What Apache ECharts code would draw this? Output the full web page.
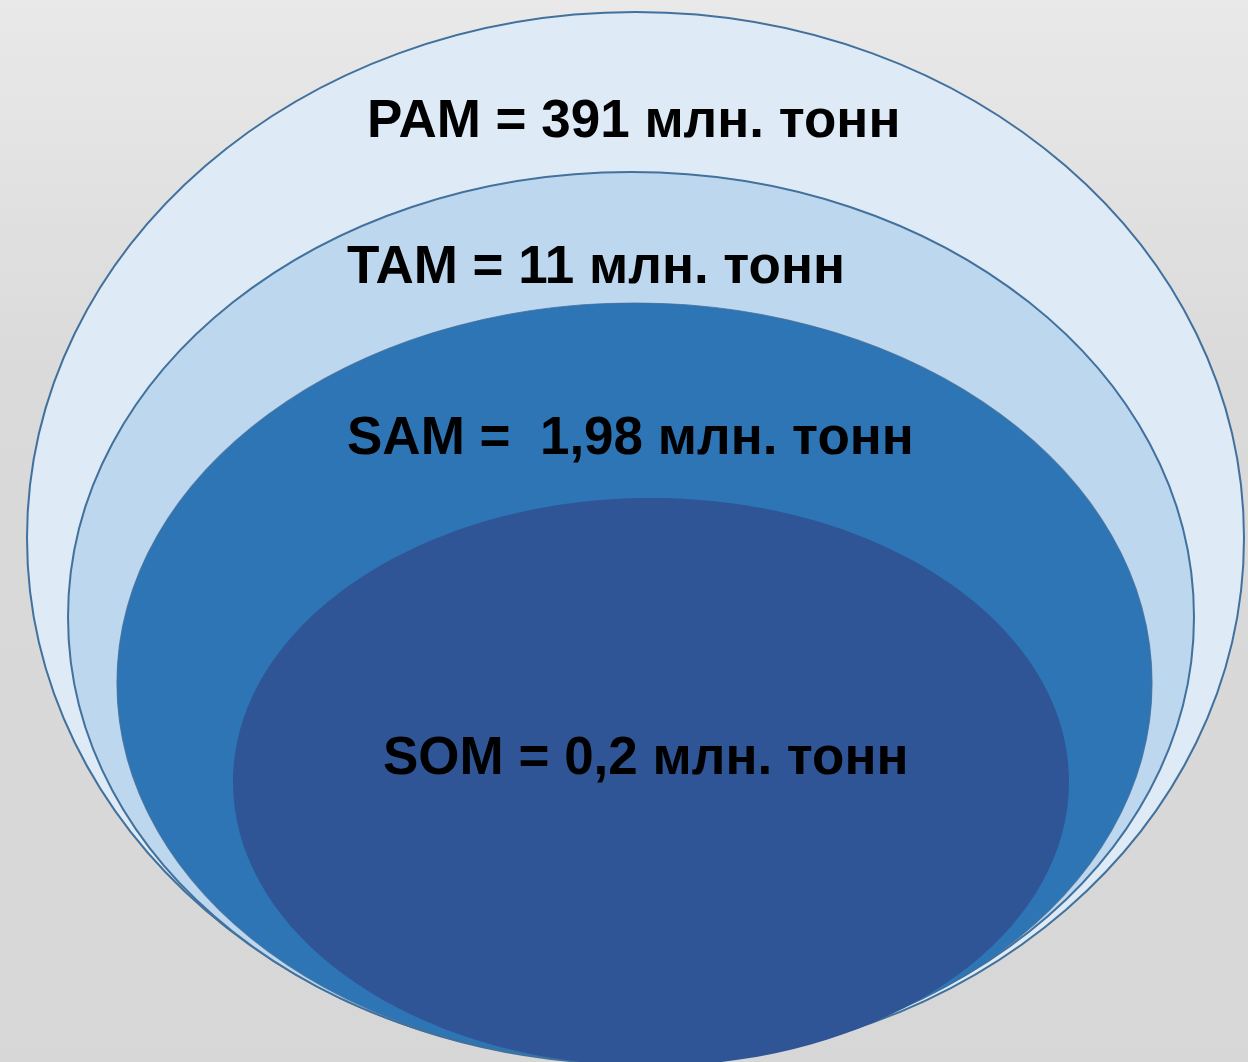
<!DOCTYPE html>
<html>
<head>
<meta charset="utf-8">
<title>PAM / TAM / SAM / SOM</title>
<script src="https://cdn.jsdelivr.net/npm/echarts@6/dist/echarts.min.js"></script>
<style>
  html, body { margin: 0; padding: 0; }
  #chart { width: 1248px; height: 1062px; }
</style>
</head>
<body>
<div id="chart"></div>
<script>
// Market levels, from the widest to the narrowest
const segments = ['PAM', 'TAM', 'SAM', 'SOM'];
const volumes = [391, 11, 1.98, 0.2];
const unit = 'млн. тонн';
const separators = [' = ', ' = ', ' =  ', ' = '];

// Ellipse layout in the diagram's own units (x: 0..1248, y: 0..1062 downwards)
const ellipseCx = [635.5, 631, 634.5, 651];
const ellipseCy = [538, 617, 683, 782];
const ellipseRx = [608.5, 563, 517.5, 418];
const ellipseRy = [526, 445, 380, 284];

// Label anchors (left edge, vertical middle) in the same units
const labelX = [367, 347, 347, 383];
const labelY = [122, 268, 439, 759];

const fills = ['#deebf7', '#bdd7ee', '#2e75b6', '#2f5597'];
const strokes = ['#41719c', '#41719c', 'rgba(65,113,156,0.8)', null];
const strokeWidths = [2, 2, 1.2, 0];

function formatVolume(v) {
  return String(v).replace('.', ',');
}

const ellipseData = segments.map((s, i) => [ellipseCx[i], ellipseCy[i], ellipseRx[i], ellipseRy[i], i]);
const labelData = segments.map((s, i) => [labelX[i], labelY[i], i]);

const chart = echarts.init(document.getElementById('chart'), null, { renderer: 'canvas' });

chart.setOption({
  backgroundColor: new echarts.graphic.LinearGradient(0, 0, 0, 1, [
    { offset: 0, color: '#e9e9e9' },
    { offset: 0.35, color: '#dadada' },
    { offset: 1, color: '#d7d7d7' }
  ]),
  animation: false,
  grid: { left: 0, right: 0, top: 0, bottom: 0 },
  xAxis: { type: 'value', min: 0, max: 1248, show: false },
  yAxis: { type: 'value', min: 0, max: 1062, inverse: true, show: false },
  series: [
    {
      type: 'custom',
      name: 'levels',
      coordinateSystem: 'cartesian2d',
      data: ellipseData,
      z: 1,
      renderItem: function (params, api) {
        const i = api.value(4);
        const c = api.coord([api.value(0), api.value(1)]);
        const size = api.size([api.value(2), api.value(3)]);
        return {
          type: 'ellipse',
          shape: { cx: c[0], cy: c[1], rx: size[0], ry: size[1] },
          style: {
            fill: fills[i],
            stroke: strokes[i] || 'none',
            lineWidth: strokeWidths[i]
          }
        };
      }
    },
    {
      type: 'custom',
      name: 'labels',
      coordinateSystem: 'cartesian2d',
      data: labelData,
      z: 2,
      renderItem: function (params, api) {
        const i = api.value(2);
        const p = api.coord([api.value(0), api.value(1)]);
        return {
          type: 'text',
          x: p[0],
          y: p[1],
          style: {
            text: segments[i] + separators[i] + formatVolume(volumes[i]) + ' ' + unit,
            fill: '#000000',
            font: 'bold 53px "Liberation Sans", Arial, sans-serif',
            textAlign: 'left',
            textVerticalAlign: 'middle'
          }
        };
      }
    }
  ]
});
</script>
</body>
</html>
